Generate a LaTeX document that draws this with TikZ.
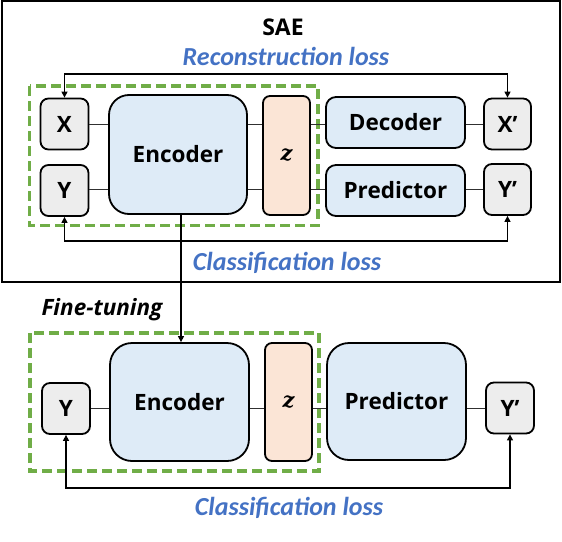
\documentclass[tikz,border=0pt]{standalone}
\usepackage{fontspec}
\setmainfont{Open Sans}
\newfontfamily\losefont{Carlito}
\newfontfamily\zfont{DejaVu Serif}
\usetikzlibrary{arrows.meta}
\definecolor{boxgray}{HTML}{EDEDED}
\definecolor{encblue}{HTML}{DEEBF7}
\definecolor{zpeach}{HTML}{FBE5D6}
\definecolor{dgreen}{HTML}{70AD47}
\definecolor{lblue}{HTML}{4472C4}
\definecolor{conn}{HTML}{303030}
\tikzset{
  blk/.style={draw=black, line width=1.8pt, inner sep=0pt, font=\fontsize{22.5}{26}\selectfont\bfseries},
  iobox/.style={blk, fill=boxgray, rounded corners=8pt, minimum width=48pt, minimum height=51pt},
  encbox/.style={blk, fill=encblue, rounded corners=20pt},
  zbox/.style={blk, fill=zpeach, rounded corners=7pt, minimum width=47pt, font=\zfont\fontsize{21}{26}\selectfont\bfseries\itshape},
  decbox/.style={blk, fill=encblue, rounded corners=10pt, minimum width=139pt, minimum height=51pt},
  frame/.style={draw=dgreen, line width=3.4pt, dash pattern=on 10pt off 5pt},
  link/.style={draw=conn, line width=1pt},
  arr/.style={draw=black, line width=1.3pt, -{Triangle[length=6pt,width=6pt]}},
  biarr/.style={draw=black, line width=1.3pt, {Triangle[length=6pt,width=6pt]}-{Triangle[length=6pt,width=6pt]}},
  losslbl/.style={text=lblue, font=\losefont\fontsize{26}{30}\selectfont\bfseries\itshape},
  titlelbl/.style={font=\fontsize{23}{27}\selectfont\bfseries}
}
\begin{document}
\begin{tikzpicture}[x=1pt,y=-1pt]
\useasboundingbox (0,0) rectangle (562,541);
% outer SAE frame
\node[draw=black, line width=2pt, minimum width=558pt, minimum height=281pt, inner sep=0pt] (sae) at (280.5,141.5) {};
\node[titlelbl] (saet) at (283,27) {SAE};
\node[losslbl] (recl) at (286,56) {Reconstruction loss};
\node[losslbl] (cls1) at (287,263) {Classification loss};
% green dashed frames
\draw[frame] (29.5,86) rectangle (318,225.5);
\draw[frame] (30,333) rectangle (319,471);
% top row
\node[iobox] (X) at (64.5,124) {X};
\node[iobox] (Y) at (64.5,190.5) {Y};
\node[encbox, minimum width=138pt, minimum height=119pt] (E) at (178,154.5) {Encoder};
\node[zbox, minimum height=119pt] (Z) at (286.5,155.5) {z};
\node[decbox] (D) at (395.5,122.5) {Decoder};
\node[decbox] (P) at (395.5,190.5) {Predictor};
\node[iobox, minimum width=47pt] (Xp) at (507.5,124) {X’};
\node[iobox, minimum width=47pt] (Yp) at (507.5,189.5) {Y’};
\coordinate (ra) at (0,124);
\coordinate (rb) at (0,189);
\draw[link] (X.east) -- (X.east -| E.west);
\draw[link] (Y.east |- rb) -- (rb -| E.west);
\draw[link] (E.east |- ra) -- (ra -| Z.west);
\draw[link] (E.east |- rb) -- (rb -| Z.west);
\draw[link] (Z.east |- ra) -- (ra -| D.west);
\draw[link] (Z.east |- rb) -- (rb -| P.west);
\draw[link] (D.east |- ra) -- (ra -| Xp.west);
\draw[link] (P.east |- rb) -- (rb -| Yp.west);
\coordinate (topy) at (0,74);
\coordinate (boty) at (0,241);
\draw[biarr] (X.north) -- (X.north |- topy) -| (Xp.north);
\draw[biarr] (Y.south) -- (Y.south |- boty) -| (Yp.south);
% fine-tuning
\node[font=\fontsize{22.5}{26}\selectfont\bfseries\itshape, anchor=west] (ft) at (38,310) {Fine-tuning};
\node[iobox] (Y2) at (66,408.5) {Y};
\node[encbox, rounded corners=22pt, minimum width=139pt, minimum height=118pt] (E2) at (179.5,402) {Encoder};
\node[zbox, minimum height=118pt] (Z2) at (288.5,402) {z};
\node[encbox, rounded corners=22pt, minimum width=139pt, minimum height=117pt] (P2) at (396.5,401.5) {Predictor};
\node[iobox] (Yp2) at (510,408) {Y’};
\coordinate (rc) at (0,408);
\draw[link] (Y2.east |- rc) -- (rc -| E2.west);
\draw[link] (E2.east |- rc) -- (rc -| Z2.west);
\draw[link] (Z2.east |- rc) -- (rc -| P2.west);
\draw[link] (P2.east |- rc) -- (rc -| Yp2.west);
\coordinate (boty2) at (0,488);
\draw[biarr] (Y2.south) -- (Y2.south |- boty2) -| (Yp2.south);
\node[losslbl] (cls2) at (289,508) {Classification loss};
% encoder transfer
\draw[arr] ([xshift=3pt]E.south) -- ([xshift=3pt]E.south |- E2.north);
\end{tikzpicture}
\end{document}
